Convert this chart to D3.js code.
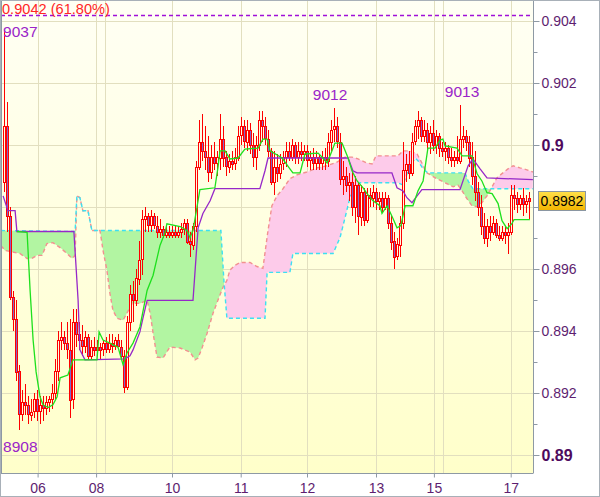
<!DOCTYPE html>
<html><head><meta charset="utf-8">
<script src="https://cdn.jsdelivr.net/npm/d3@7"></script>
<style>body{margin:0;background:#fff}svg{display:block}text{font-family:"Liberation Sans",Arial,sans-serif}</style>
</head><body><svg id="c" width="600" height="497"></svg>
<script>
// ---------- data ----------
const opens=[0.8988,0.9006,0.8977,0.8951,0.8944,0.8927,0.8913,0.8917,0.8916,0.8913,
0.8914,0.8918,0.8914,0.8916,0.8915,0.8917,0.8918,0.8920,0.8927,0.8937,
0.8938,0.8936,0.8934,0.8918,0.8943,0.8939,0.8937,0.8935,0.8938,0.8932,
0.8935,0.8934,0.8935,0.8934,0.8936,0.8934,0.8936,0.8935,0.8937,0.8935,
0.8932,0.8922,0.8943,0.8952,0.8950,0.8957,0.8963,0.8976,0.8977,0.8974,
0.8977,0.8974,0.8972,0.8973,0.8971,0.8972,0.8971,0.8972,0.8971,0.8972,
0.8973,0.8975,0.8969,0.8968,0.8974,0.8993,0.9001,0.8998,0.8996,0.8991,
0.8996,0.8994,0.8996,0.9002,0.8996,0.8993,0.8995,0.8994,0.8996,0.9003,
0.9006,0.9001,0.9005,0.9000,0.8996,0.9000,0.9008,0.9006,0.9002,0.8998,
0.8988,0.8993,0.8991,0.8994,0.8996,0.8998,0.8996,0.9000,0.8996,0.8998,
0.8997,0.8998,0.8995,0.8996,0.8994,0.8996,0.8994,0.8996,0.8995,0.9001,
0.9005,0.9006,0.9001,0.8989,0.8990,0.8987,0.8988,0.8980,0.8987,0.8977,
0.8985,0.8976,0.8984,0.8983,0.8985,0.8982,0.8983,0.8980,0.8983,0.8975,
0.8969,0.8964,0.8968,0.8975,0.8992,0.8994,0.8991,0.9001,0.9006,0.9008,
0.9003,0.9005,0.9001,0.9004,0.9000,0.9003,0.8999,0.8998,0.8999,0.8996,
0.8995,0.8996,0.8995,0.9002,0.9003,0.9001,0.8996,0.8990,0.8985,0.8980,
0.8974,0.8970,0.8974,0.8972,0.8975,0.8971,0.8970,0.8972,0.8971,0.8972,
0.8984,0.8983,0.8981,0.8983,0.8981,0.8983];
const highs=[0.9037,0.9014,0.8980,0.8953,0.8950,0.8929,0.8921,0.8923,0.8919,0.8918,
0.8920,0.8921,0.8919,0.8919,0.8919,0.8919,0.8923,0.8931,0.8940,0.8943,
0.8940,0.8943,0.8944,0.8947,0.8947,0.8943,0.8942,0.8940,0.8939,0.8937,
0.8938,0.8937,0.8936,0.8937,0.8938,0.8939,0.8939,0.8938,0.8939,0.8937,
0.8934,0.8945,0.8955,0.8956,0.8960,0.8969,0.8979,0.8980,0.8978,0.8979,
0.8978,0.8977,0.8976,0.8974,0.8974,0.8974,0.8974,0.8974,0.8974,0.8975,
0.8976,0.8976,0.8972,0.8975,0.8995,0.9008,0.9010,0.9006,0.9003,0.9000,
0.9001,0.8998,0.9010,0.9006,0.8998,0.8997,0.8998,0.8999,0.9006,0.9009,
0.9008,0.9008,0.9007,0.9004,0.9003,0.9011,0.9011,0.9009,0.9005,0.8999,
0.8998,0.8997,0.8997,0.8998,0.9001,0.9001,0.9002,0.9001,0.9001,0.9001,
0.9000,0.9000,0.8998,0.8999,0.8998,0.8997,0.8998,0.8999,0.9004,0.9008,
0.9012,0.9009,0.9004,0.8995,0.8993,0.8991,0.8992,0.8990,0.8988,0.8987,
0.8986,0.8986,0.8986,0.8987,0.8986,0.8985,0.8985,0.8985,0.8984,0.8977,
0.8972,0.8970,0.8977,0.9001,0.8997,0.8998,0.9004,0.9008,0.9011,0.9009,
0.9008,0.9007,0.9006,0.9008,0.9005,0.9004,0.9001,0.9001,0.9000,0.8999,
0.8998,0.9003,0.9013,0.9006,0.9005,0.9003,0.9001,0.8998,0.8988,0.8984,
0.8978,0.8976,0.8977,0.8977,0.8976,0.8974,0.8974,0.8974,0.8975,0.8987,
0.8987,0.8985,0.8984,0.8986,0.8984,0.8985];
const lows=[0.8985,0.8972,0.8950,0.8940,0.8924,0.8908,0.8911,0.8913,0.8910,0.8911,
0.8912,0.8911,0.8910,0.8911,0.8913,0.8914,0.8915,0.8918,0.8924,0.8934,
0.8934,0.8931,0.8912,0.8915,0.8935,0.8934,0.8932,0.8933,0.8931,0.8931,
0.8932,0.8932,0.8931,0.8932,0.8933,0.8933,0.8933,0.8934,0.8935,0.8931,
0.8920,0.8921,0.8940,0.8943,0.8948,0.8955,0.8958,0.8972,0.8972,0.8972,
0.8973,0.8970,0.8970,0.8970,0.8970,0.8970,0.8970,0.8970,0.8970,0.8970,
0.8971,0.8968,0.8964,0.8966,0.8972,0.8992,0.8995,0.8992,0.8988,0.8989,
0.8992,0.8990,0.8992,0.8993,0.8990,0.8991,0.8992,0.8992,0.8995,0.9000,
0.8999,0.8998,0.8997,0.8993,0.8992,0.8998,0.9001,0.9000,0.8996,0.8987,
0.8984,0.8988,0.8989,0.8992,0.8993,0.8995,0.8995,0.8994,0.8994,0.8995,
0.8995,0.8993,0.8992,0.8992,0.8992,0.8992,0.8992,0.8992,0.8993,0.8998,
0.9001,0.8999,0.8987,0.8984,0.8985,0.8982,0.8977,0.8975,0.8971,0.8974,
0.8974,0.8975,0.8980,0.8980,0.8979,0.8979,0.8978,0.8979,0.8973,0.8966,
0.8960,0.8963,0.8964,0.8973,0.8988,0.8989,0.8990,0.9000,0.9002,0.9001,
0.9001,0.8998,0.8997,0.8998,0.8997,0.8996,0.8996,0.8995,0.8994,0.8993,
0.8993,0.8994,0.8994,0.8999,0.8998,0.8993,0.8987,0.8982,0.8977,0.8971,
0.8968,0.8967,0.8969,0.8971,0.8970,0.8969,0.8969,0.8968,0.8965,0.8971,
0.8979,0.8978,0.8979,0.8977,0.8978,0.8976];
const closes=[0.9006,0.8977,0.8951,0.8944,0.8927,0.8913,0.8917,0.8916,0.8913,0.8914,
0.8918,0.8914,0.8916,0.8915,0.8917,0.8918,0.8920,0.8927,0.8937,0.8938,
0.8936,0.8934,0.8918,0.8943,0.8939,0.8937,0.8935,0.8938,0.8932,0.8935,
0.8934,0.8935,0.8934,0.8936,0.8934,0.8936,0.8935,0.8937,0.8935,0.8932,
0.8922,0.8943,0.8952,0.8950,0.8957,0.8963,0.8976,0.8977,0.8974,0.8977,
0.8974,0.8972,0.8973,0.8971,0.8972,0.8971,0.8972,0.8971,0.8972,0.8973,
0.8975,0.8969,0.8968,0.8974,0.8993,0.9001,0.8998,0.8996,0.8991,0.8996,
0.8994,0.8996,0.9002,0.8996,0.8993,0.8995,0.8994,0.8996,0.9003,0.9006,
0.9001,0.9005,0.9000,0.8996,0.9000,0.9008,0.9006,0.9002,0.8998,0.8988,
0.8993,0.8991,0.8994,0.8996,0.8998,0.8996,0.9000,0.8996,0.8998,0.8997,
0.8998,0.8995,0.8996,0.8994,0.8996,0.8994,0.8996,0.8995,0.9001,0.9005,
0.9006,0.9001,0.8989,0.8990,0.8987,0.8988,0.8980,0.8987,0.8977,0.8985,
0.8976,0.8984,0.8983,0.8985,0.8982,0.8983,0.8980,0.8983,0.8975,0.8969,
0.8964,0.8968,0.8975,0.8992,0.8994,0.8991,0.9001,0.9006,0.9008,0.9003,
0.9005,0.9001,0.9004,0.9000,0.9003,0.8999,0.8998,0.8999,0.8996,0.8995,
0.8996,0.8995,0.9002,0.9003,0.9001,0.8996,0.8990,0.8985,0.8980,0.8974,
0.8970,0.8974,0.8972,0.8975,0.8971,0.8970,0.8972,0.8971,0.8972,0.8984,
0.8983,0.8981,0.8983,0.8981,0.8982,0.8982];

// Ichimoku lines: [bar slot, price]
const tenkan=[[4.3,.89721],[7.7,.89718],[8.7,.89531],[9.7,.89371],[10.7,.89268],[12,.89188],[13,.89162],[14.7,.89153],[16.3,.89162],[17.7,.89188],[18.7,.89249],[21.3,.89258],[23,.89307],[31,.89307],[31.7,.89397],[33,.89371],[35.3,.89361],[38,.89348],[39.7,.89291],[41,.89329],[43,.89361],[45.3,.89413],[47.7,.89531],[49.7,.8958],[52,.89676],[53.7,.89718],[54.3,.89746],[58.7,.89737],[61,.89724],[62,.89701],[63,.89724],[64.3,.89798],[65.3,.89856],[70.3,.89862],[71.3,.89926],[72,.89981],[73.7,.89981],[75.3,.89955],[78,.89958],[80.3,.89987],[84.7,.8999],[86.3,.90019],[87.7,.90019],[88.7,.89981],[92.7,.89958],[95.3,.89923],[96.3,.8991],[98.7,.8991],[100.3,.89971],[104.7,.89974],[106.3,.89958],[107.7,.89942],[109.3,.89981],[110.3,.90006],[112.7,.90006],[114.7,.89958],[116,.89917],[117.7,.89884],[119.7,.89862],[121,.89843],[123,.8982],[125.3,.89804],[126,.89779],[127.7,.89804],[129.7,.89762],[131,.89733],[132.3,.8974],[133.7,.89804],[136.3,.89804],[138,.89852],[139.7,.89884],[141.3,.8999],[143.7,.8999],[145.3,.90016],[146.3,.90019],[147,.89997],[151,.8999],[152.7,.89965],[156,.89965],[157.7,.89907],[159.3,.89884],[161,.89846],[162.7,.89843],[164.7,.89811],[166,.89756],[167.7,.8973],[169.3,.89746],[170,.89759],[175.3,.89759]];
const kijun=[[-0.3,.89836],[1.3,.89788],[3.7,.89788],[4.3,.89721],[23.3,.89721],[24.7,.89499],[25.3,.89339],[27,.89307],[40.3,.8931],[42,.8932],[43,.89339],[45.3,.89397],[46.3,.89441],[47.7,.89499],[63,.89499],[64.7,.89733],[66.3,.89779],[68.7,.8982],[70.3,.89859],[85.3,.89859],[87,.89917],[88,.89958],[114.7,.89958],[116.3,.89917],[117.7,.8991],[129.3,.8991],[131,.89862],[133,.89852],[134.3,.8983],[136,.89814],[137.7,.89836],[139.3,.89856],[152,.89856],[154.7,.89933],[156.3,.89955],[158.7,.89923],[161,.89894],[176.3,.89888]];
const spanA=[[-1,.89724],[23.7,.89721],[24.3,.89836],[25.3,.8983],[26.3,.89788],[28,.89788],[29.3,.89724],[72.3,.89724],[73.3,.89563],[74.3,.89441],[87,.89441],[87.7,.89589],[95.3,.89589],[96.3,.8965],[109.7,.8965],[112,.89701],[113.7,.89766],[115.3,.8983],[117,.89862],[118.7,.89878],[131.3,.89878],[133,.89871],[134.7,.89917],[137,.89958],[138,.89949],[139.7,.89923],[141.3,.8991],[153.7,.8991],[154.7,.89884],[156.3,.89859],[176.3,.89859]];
const spanB=[[-1,.89675],[0.3,.8966],[5.3,.8965],[7.7,.89634],[9.3,.89634],[11,.89644],[12.7,.89644],[14.3,.89682],[16.3,.89685],[18.7,.89669],[21,.8965],[22.7,.89634],[23.7,.89644],[24.3,.89836],[25.3,.8983],[26.3,.89788],[28,.89788],[29.3,.89724],[32,.89724],[33,.8966],[34.3,.89596],[35.3,.89522],[36.3,.89467],[37.7,.89441],[39.7,.89435],[41,.89458],[42.7,.89489],[45.3,.89489],[47.7,.89499],[48.7,.89458],[49.7,.89393],[51,.89316],[53,.89313],[55.3,.89348],[58.7,.89345],[62,.89332],[63.7,.89307],[64.7,.89313],[66,.89345],[67.7,.89393],[69.7,.89458],[71.3,.89499],[73,.89541],[74.3,.89563],[75.3,.89596],[77,.89612],[78.7,.89621],[82,.89621],[84.3,.89608],[86.3,.89602],[88,.89724],[89.3,.89804],[91,.89836],[93,.89859],[95.3,.89891],[97.7,.89904],[101,.89913],[104.3,.89926],[107.7,.89933],[111,.89945],[113.7,.89961],[116,.89961],[118,.89955],[121,.89942],[122.7,.89939],[124,.89965],[131.3,.89965],[133,.89981],[135.3,.89981],[137.7,.89971],[139.3,.89942],[141,.8991],[144.3,.89891],[147.7,.89875],[149.7,.89865],[151.3,.89871],[152.7,.89852],[154.3,.89827],[156,.89804],[157.7,.89801],[159.3,.89814],[161,.89836],[162.7,.89865],[164.3,.89894],[166.3,.8991],[168,.89923],[169.7,.89933],[172,.89926],[174.3,.8992],[176.3,.89913]];

const dayLabels=["06","08","10","11","12","13","15","17"];
const daySlots=[11.2,30.7,56,78.9,101,124,143.3,168.9];
const extraGridSlots=[33.7,146.3];
const yMajor=[0.89,0.892,0.894,0.896,0.898,0.9,0.902,0.904];
const yMinor=[0.891,0.893,0.895,0.897,0.899,0.901,0.903];
const boldTicks=[0.89,0.9];
const fibLevel=0.9042, fibText="0.9042 (61.80%)";
const lastPrice=0.8982, lastText="0.8982";
const swingLabels=[
  {slot:-0.3,price:0.9037,text:"9037",anchor:"start",pos:"below"},
  {slot:-0.3,price:0.8908,text:"8908",anchor:"start",pos:"lowbelow"},
  {slot:108.7,price:0.9012,text:"9012",anchor:"middle",pos:"above"},
  {slot:152.7,price:0.9013,text:"9013",anchor:"middle",pos:"above"}];

// ---------- layout ----------
const L=1,T=1,R=533,B=473;
const x=d3.scaleLinear().domain([0,175]).range([4,529]);
const y=d3.scaleLinear().domain([0.89,0.904]).range([455,21]);
const svg=d3.select("#c");
const defs=svg.append("defs");
const gr=defs.append("linearGradient").attr("id","bg").attr("x1",0).attr("y1",0).attr("x2",0).attr("y2",1);
gr.append("stop").attr("offset","0%").attr("stop-color","#fffff4");
gr.append("stop").attr("offset","100%").attr("stop-color","#ffffca");
const gy=defs.append("linearGradient").attr("id","gold").attr("x1",0).attr("y1",0).attr("x2",0).attr("y2",1);
gy.append("stop").attr("offset","0%").attr("stop-color","#ffe04a");
gy.append("stop").attr("offset","100%").attr("stop-color","#f2b400");
defs.append("clipPath").attr("id","plot").append("rect").attr("x",L).attr("y",T).attr("width",R-L).attr("height",B-T);

svg.append("rect").attr("width",600).attr("height",497).attr("fill","#fff");
svg.append("rect").attr("x",L).attr("y",T).attr("width",R-L).attr("height",B-T).attr("fill","url(#bg)");

const plot=svg.append("g").attr("clip-path","url(#plot)");
// grid
plot.selectAll("line.hg").data(yMajor).join("line")
 .attr("x1",L).attr("x2",R).attr("y1",d=>Math.round(y(d))+0.5).attr("y2",d=>Math.round(y(d))+0.5)
 .attr("stroke","#e2dfbf").attr("stroke-width",1);
plot.selectAll("line.vg").data(daySlots.concat(extraGridSlots)).join("line")
 .attr("y1",T).attr("y2",B).attr("x1",d=>Math.round(x(d))+0.5).attr("x2",d=>Math.round(x(d))+0.5)
 .attr("stroke","#e2dfbf").attr("stroke-width",1);

// cloud via clip paths
const px=d=>x(d[0]), py=d=>y(d[1]);
const areaBelow=d3.area().x(px).y0(B+5).y1(py);
const areaAbove=d3.area().x(px).y0(T-5).y1(py);
defs.append("clipPath").attr("id","belowA").append("path").attr("d",areaBelow(spanA));
defs.append("clipPath").attr("id","belowB").append("path").attr("d",areaBelow(spanB));
plot.append("g").attr("clip-path","url(#belowA)").append("path").attr("d",areaAbove(spanB)).attr("fill","#b2f5a2");
plot.append("g").attr("clip-path","url(#belowB)").append("path").attr("d",areaAbove(spanA)).attr("fill","#fdcbea");
const line=d3.line().x(px).y(py);
plot.append("path").attr("d",line(spanB)).attr("fill","none").attr("stroke","#f29090").attr("stroke-width",1.4).attr("stroke-dasharray","4,3");
plot.append("path").attr("d",line(spanA)).attr("fill","none").attr("stroke","#3ce0f2").attr("stroke-width",1.4).attr("stroke-dasharray","4,3");

// fib line
plot.append("line").attr("x1",L).attr("x2",R).attr("y1",Math.round(y(fibLevel))+0.5).attr("y2",Math.round(y(fibLevel))+0.5)
 .attr("stroke","#a010d8").attr("stroke-width",1.3).attr("stroke-dasharray","4,3");

// candles
const bars=opens.map((o,i)=>({i,o,h:highs[i],l:lows[i],c:closes[i]}));
const cg=plot.append("g").attr("shape-rendering","crispEdges");
cg.selectAll("line").data(bars).join("line")
 .attr("x1",d=>x(d.i)+0.5).attr("x2",d=>x(d.i)+0.5)
 .attr("y1",d=>y(d.h)).attr("y2",d=>y(d.l)).attr("stroke","#ff0000").attr("stroke-width",1);
cg.selectAll("rect").data(bars).join("rect")
 .attr("x",d=>x(d.i)-0.5).attr("width",2)
 .attr("y",d=>Math.round(y(Math.max(d.o,d.c)))+0.5)
 .attr("height",d=>Math.max(1,Math.round(Math.abs(y(d.o)-y(d.c)))))
 .attr("fill",d=>d.c<d.o?"#8464c8":"#fffbe0").attr("stroke","#ff0000").attr("stroke-width",1);

plot.append("path").attr("d",line(kijun)).attr("fill","none").attr("stroke","#9628c8").attr("stroke-width",1.3);
plot.append("path").attr("d",line(tenkan)).attr("fill","none").attr("stroke","#1ee01e").attr("stroke-width",1.3);

// swing labels
plot.selectAll("text.sw").data(swingLabels).join("text")
 .attr("x",d=>x(d.slot)).attr("text-anchor",d=>d.anchor)
 .attr("y",d=>d.pos==="above"?y(d.price)-8:d.pos==="below"?y(d.price)+7:y(d.price)+22)
 .attr("font-size",15.5).attr("fill","#9a24c8").text(d=>d.text);
plot.append("text").attr("x",L+1).attr("y",13.5).attr("font-size",14.6).attr("fill","#ff2626").text(fibText);

// frame
svg.append("line").attr("x1",L+0.5).attr("x2",L+0.5).attr("y1",0).attr("y2",B).attr("stroke","#8e99a4");
svg.append("line").attr("x1",R+0.5).attr("x2",R+0.5).attr("y1",0).attr("y2",B).attr("stroke","#8e99a4");
svg.append("line").attr("x1",0).attr("x2",R+0.5).attr("y1",B+0.5).attr("y2",B+0.5).attr("stroke","#8e99a4");
svg.append("rect").attr("x",0.5).attr("y",0.5).attr("width",599).attr("height",496).attr("fill","none").attr("stroke","#a8b0b8");

// y axis (label at the last-price level is covered by the price box)
const ya=svg.append("g").attr("transform",`translate(${R+0.5},0)`)
 .call(d3.axisRight(y).tickValues(yMajor).tickSize(6).tickPadding(2)
   .tickFormat(d=>Math.abs(d-lastPrice)<0.0008?"":String(+d.toFixed(3))));
ya.select(".domain").remove();
ya.selectAll("line").attr("stroke","#8e99a4");
ya.selectAll("text").attr("fill","#5e1e70").attr("font-size",14).attr("font-family","Liberation Sans, Arial, sans-serif")
 .filter(d=>boldTicks.includes(d)).attr("font-weight","bold").attr("font-size",16).attr("fill","#4e0a5e");
const ym=svg.append("g").attr("transform",`translate(${R+0.5},0)`)
 .call(d3.axisRight(y).tickValues(yMinor).tickSize(4).tickFormat(""));
ym.select(".domain").remove(); ym.selectAll("line").attr("stroke","#8e99a4");

// x axis
const xa=svg.append("g").attr("transform",`translate(0,${B+0.5})`)
 .call(d3.axisBottom(x).tickValues(daySlots).tickSize(4).tickPadding(6).tickFormat((d,i)=>dayLabels[i]));
xa.select(".domain").remove();
xa.selectAll("line").attr("stroke","#8e99a4");
xa.selectAll("text").attr("fill","#5e1e70").attr("font-size",14).attr("font-family","Liberation Sans, Arial, sans-serif");

// last price box
const ly=y(lastPrice);
svg.append("rect").attr("x",538.5).attr("y",Math.round(ly)-9.5).attr("width",47).attr("height",19)
 .attr("fill","url(#gold)").attr("stroke","#8a96a2").attr("stroke-width",1);
svg.append("text").attr("x",540.5).attr("y",ly+5).attr("font-size",14).attr("fill","#000").text(lastText);
</script></body></html>
